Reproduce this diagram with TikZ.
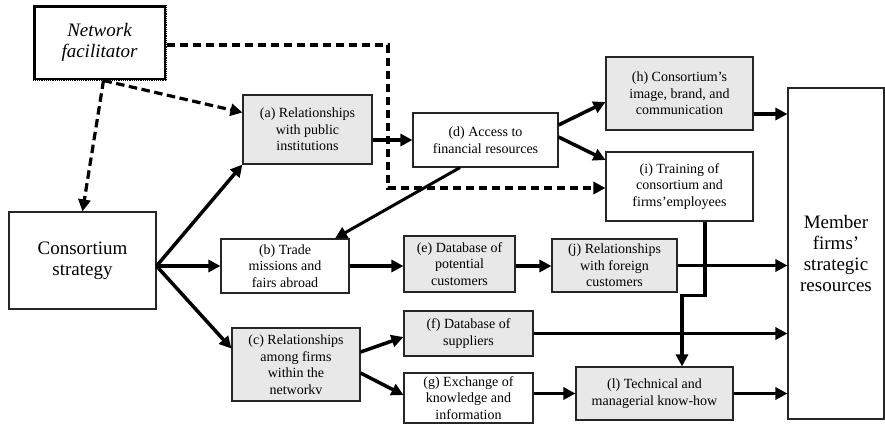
\documentclass[tikz,border=0pt]{standalone}
\usepackage{fontspec}
\setmainfont{Liberation Serif}
\usetikzlibrary{arrows.meta}
\definecolor{boxgray}{RGB}{232,232,232}
\begin{document}
\begin{tikzpicture}[x=1pt,y=-1pt,
  box/.style={draw=black!85, line width=1.1pt, align=center, inner sep=0pt,
    font=\fontsize{14}{16.5}\selectfont},
  graybox/.style={box, fill=boxgray},
  bigbox/.style={box, font=\fontsize{19}{21}\selectfont},
  arr/.style={line width=3.5pt, -{Triangle[length=12pt,width=12pt]}},
  darr/.style={line width=3.2pt, dash pattern=on 8.5pt off 4.5pt, -{Triangle[length=12pt,width=12pt]}}
]
\useasboundingbox (0,0) rectangle (885,424);

% facilitator (heavy speckled border) and strategy
\node[box, minimum width=131pt, minimum height=73pt, line width=3pt, draw=black,
  font=\fontsize{19}{20.5}\selectfont\itshape]
  (nf) at (99.5,42.5) {Network\\facilitator};
\draw[white, line width=0.9pt, dash pattern=on 0.8pt off 1.4pt] (nf.south west) rectangle (nf.north east);
\node[bigbox, minimum width=147pt, minimum height=97pt] (cs) at (82.5,260.5) {Consortium\\strategy};

% first level activities
\node[graybox, minimum width=129pt, minimum height=69pt] (a) at (307.5,129.5) {(a) Relationships\\with public\\institutions};
\node[box, minimum width=128pt, minimum height=54pt] (b) at (285,266) {(b) Trade\\missions and\\fairs abroad};
\node[graybox, minimum width=128pt, minimum height=73pt] (c) at (296,364.5) {(c) Relationships\\among firms\\within the\\networkv};

% second level activities
\node[box, minimum width=145pt, minimum height=54pt] (d) at (485.5,140) {(d) Access to\\financial resources};
\node[graybox, minimum width=111pt, minimum height=56pt] (e) at (459.5,264) {(e) Database of\\potential\\customers};
\node[graybox, minimum width=129pt, minimum height=45pt] (f) at (468.5,333.5) {(f) Database of\\suppliers};
\node[box, minimum width=129pt, minimum height=50pt] (g) at (468.5,398) {(g) Exchange of\\knowledge and\\information};

% third level activities
\node[graybox, minimum width=147pt, minimum height=73pt] (h) at (679.5,93.5) {(h) Consortium’s\\image, brand, and\\communication};
\node[box, minimum width=147pt, minimum height=69pt] (i) at (679.5,186.5) {(i) Training of\\consortium and\\firms’employees};
\node[graybox, minimum width=125pt, minimum height=53pt] (j) at (614.5,265.5) {(j) Relationships\\with foreign\\customers};
\node[graybox, minimum width=157pt, minimum height=53pt] (l) at (654.5,393.5) {(l) Technical and\\managerial know-how};

% outcome
\node[bigbox, minimum width=96pt, minimum height=331pt] (m) at (836,253.5) {Member\\firms’\\strategic\\resources};

% facilitator links
\coordinate (k1) at (388,45);
\coordinate (k2) at (388,188);
\draw[darr] ([xshift=4pt]nf.south) -- (cs.north);
\draw[darr] ([xshift=4pt]nf.south) -- ([yshift=17pt]a.west);
\draw[darr] (nf.east |- k1) -- (k1) -- (k2) -- (i.west |- k2);

% strategy fan-out
\coordinate (split) at (156.5,266);
\draw[arr] (split) -- (a.south west);
\draw[arr] (split) -- (b.west);
\draw[arr] (split) -- ([yshift=16pt]c.west);

% activity links
\draw[arr] (a.east |- d.west) -- (d.west);
\draw[arr] ([yshift=15pt]d.east) -- ([yshift=-8.5pt]h.west);
\draw[arr] ([yshift=3pt]d.east) -- ([yshift=26.5pt]i.west);
\draw[arr, line width=3pt] ([xshift=-25.5pt]d.south) -- ([xshift=50pt]b.north);
\draw[arr] (b.east) -- (e.west |- b.east);
\draw[arr] (e.east |- b.east) -- (j.west |- b.east);
\draw[arr] ([yshift=12.5pt]c.east) -- ([yshift=-3.5pt]f.west);
\draw[arr] ([yshift=-8.5pt]c.east) -- ([yshift=3pt]g.west);
\draw[arr] (g.east |- l.west) -- (l.west);
\draw[arr] ([xshift=25.5pt]i.south) -- ++(0,74) -| ([xshift=27.5pt]l.north);

% links into member resources
\coordinate (hout) at ([yshift=-20.5pt]h.east);
\draw[arr] (hout) -- (m.west |- hout);
\draw[arr] (j.east) -- (m.west |- j.east);
\draw[arr] (f.east) -- (m.west |- f.east);
\draw[arr] (l.east) -- (m.west |- l.east);
\end{tikzpicture}
\end{document}
